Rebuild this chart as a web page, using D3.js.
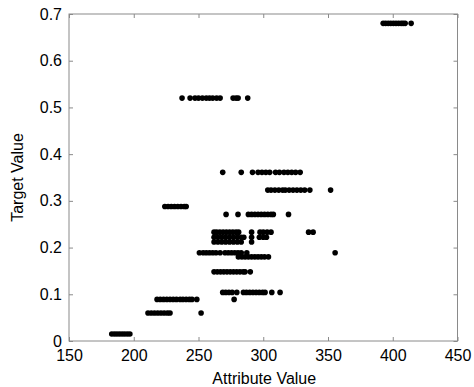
<!DOCTYPE html>
<html>
<head>
<meta charset="utf-8">
<script src="https://cdn.jsdelivr.net/npm/d3@7"></script>
<style>
  html, body { margin: 0; padding: 0; background: #fff; }
  svg { display: block; font-family: "Liberation Sans", Arial, sans-serif; }
</style>
</head>
<body>
<svg id="chart" width="474" height="387"></svg>
<script>
// ---- data: rows of points (target value, attribute values) ----
const row068 = [392.6, 394.5, 396.5, 398.5, 400.5, 402.5, 404.5, 406.5, 408, 409.6, 414.2];
const row052 = [237.3, 243.5, 247.3, 250, 253, 256, 258.5, 261, 264, 266.7, 276.7, 279, 280.6, 288];
const row036 = [268.7, 283, 291.7, 296, 299, 302, 305, 309.5, 312.5, 316, 319, 322, 325, 328.5];
const row032 = [303.5, 306, 309, 312, 315, 317, 320, 323, 326, 329, 332, 336, 352];
const row029 = [224, 226.5, 229, 231.5, 234, 236.5, 239, 240.5];
const row027 = [271.3, 280.5, 288.5, 291, 293.5, 296, 298.5, 301, 303.5, 306, 307.8, 319.5];
const row0233 = [262, 264, 266.5, 269, 271.5, 274, 276.5, 279, 281, 291, 297.5, 300, 303, 306, 335, 338.5];
const row0222 = [262, 265, 268, 271, 274, 277, 280, 283, 285, 291, 297, 300, 302.5];
const row0212 = [262, 265, 268, 271, 274, 277, 280, 283, 291];
const row019 = [250.7, 253.6, 256, 258.5, 261, 263.5, 266.7, 270.5, 273, 275.5, 278, 280.5, 283, 287.3, 355.5];
const row018 = [280.8, 283.5, 286, 288.5, 291, 293.5, 296, 298.5, 301, 304];
const row0148 = [262, 264.5, 267, 269.5, 272, 274.5, 277, 279.5, 282, 284.5, 286, 290];
const row0104 = [268.7, 271, 273.5, 276, 279.6, 284.7, 287, 289.5, 292, 294.5, 297, 299.5, 301.4, 306.6, 313];
const row0089 = [218, 220.5, 223, 225.5, 228, 230.5, 233, 235.8, 238, 240.5, 243, 245, 248.7, 277.5];
const row006 = [211, 213.5, 216, 218.5, 221, 223.5, 226, 228, 252];
const row0015 = [183, 185, 187, 189, 191, 193, 195, 197];

const rowTargets = [0.68, 0.52, 0.361, 0.323, 0.288, 0.271, 0.233, 0.222, 0.212, 0.189, 0.18, 0.148, 0.104, 0.089, 0.06, 0.015];
const rowValues = [row068, row052, row036, row032, row029, row027, row0233, row0222, row0212, row019, row018, row0148, row0104, row0089, row006, row0015];

const xTicks = [150, 200, 250, 300, 350, 400, 450];
const yTicks = [0, 0.1, 0.2, 0.3, 0.4, 0.5, 0.6, 0.7];
const xLabel = "Attribute Value";
const yLabel = "Target Value";

// ---- build point table ----
const points = [];
rowValues.forEach((arr, i) => arr.forEach(v => points.push({ x: v, y: rowTargets[i] })));

// ---- layout ----
const mLeft = 69, mRight = 457.5, mTop = 14, mBottom = 341;
const svg = d3.select("#chart");
const x = d3.scaleLinear().domain([150, 450]).range([mLeft, mRight]);
const y = d3.scaleLinear().domain([0, 0.7]).range([mBottom, mTop]);

const frameColor = "#8a8a8a";
const fontSize = 16;

// frame
svg.append("rect")
  .attr("x", mLeft).attr("y", mTop)
  .attr("width", mRight - mLeft).attr("height", mBottom - mTop)
  .attr("fill", "none").attr("stroke", frameColor).attr("stroke-width", 1);

// bottom axis
const xAxis = svg.append("g").attr("transform", `translate(0,${mBottom})`)
  .call(d3.axisBottom(x).tickValues(xTicks).tickSize(-4).tickPadding(9).tickFormat(d3.format("d")));
// top ticks
const xAxisTop = svg.append("g").attr("transform", `translate(0,${mTop})`)
  .call(d3.axisTop(x).tickValues(xTicks).tickSize(-4).tickFormat(""));
// left axis
const yAxis = svg.append("g").attr("transform", `translate(${mLeft},0)`)
  .call(d3.axisLeft(y).tickValues(yTicks).tickSize(-4).tickPadding(7).tickFormat(d => d === 0 ? "0" : d3.format(".1f")(d)));
// right ticks
const yAxisRight = svg.append("g").attr("transform", `translate(${mRight},0)`)
  .call(d3.axisRight(y).tickValues(yTicks).tickSize(-4).tickFormat(""));

[xAxis, xAxisTop, yAxis, yAxisRight].forEach(g => {
  g.select(".domain").remove();
  g.selectAll(".tick line").attr("stroke", frameColor);
  g.selectAll("text").attr("fill", "#000").style("font-size", fontSize + "px")
    .style("font-family", '"Liberation Sans", Arial, sans-serif');
});

// points
svg.append("g").selectAll("circle").data(points).join("circle")
  .attr("cx", d => x(d.x)).attr("cy", d => y(d.y))
  .attr("r", 2.8).attr("fill", "#000");

// axis titles
svg.append("text")
  .attr("x", (mLeft + mRight) / 2 + 1).attr("y", 384)
  .attr("text-anchor", "middle").style("font-size", fontSize + "px").attr("fill", "#000")
  .text(xLabel);
svg.append("text")
  .attr("transform", `translate(23,${(mTop + mBottom) / 2}) rotate(-90)`)
  .attr("text-anchor", "middle").style("font-size", fontSize + "px").attr("fill", "#000")
  .text(yLabel);
</script>
</body>
</html>
